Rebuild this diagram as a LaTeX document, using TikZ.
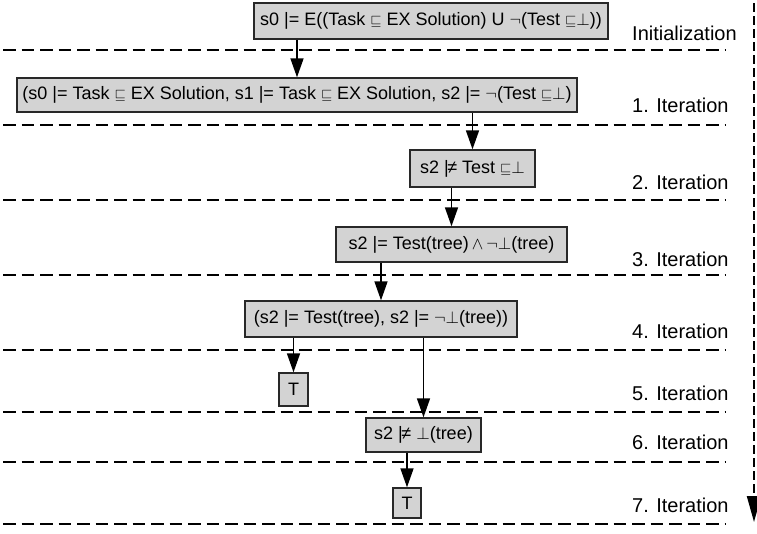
\documentclass[tikz,border=0pt]{standalone}
\usepackage{fontspec}
\setmainfont{Liberation Sans}
\usetikzlibrary{arrows.meta}

\definecolor{boxfill}{RGB}{211,211,211}
\definecolor{boxline}{RGB}{40,40,40}

% logic symbols, set a little smaller than the text
\newcommand\symSq{{\fontsize{14}{14}\selectfont$\sqsubseteq$}}
\newcommand\symBot{{\fontsize{16}{16}\selectfont$\bot$}}
\newcommand\symNeg{{\fontsize{16}{16}\selectfont$\neg$}}
\newcommand\symAnd{{\fontsize{16}{16}\selectfont$\wedge$}}
\newcommand\nmodels{|\kern-1.5pt≠}

\tikzset{
  state/.style={draw=boxline, fill=boxfill, line width=1.4pt, inner xsep=0pt,
    inner ysep=0pt, font=\fontsize{18}{21}\selectfont},
  lbl/.style={anchor=west, inner sep=0pt, font=\fontsize{20}{24}\selectfont},
  arr/.style={line width=1.6pt, -{Triangle[length=19pt, width=13pt]}},
  sep/.style={line width=2.8pt, dash pattern=on 12.5pt off 6pt},
  timeline/.style={line width=2pt, dash pattern=on 9pt off 4pt,
    -{Triangle[length=26pt, width=14pt]}}
}

\begin{document}
\begin{tikzpicture}[x=1pt, y=-1pt]
\useasboundingbox (0,0) rectangle (757,533);

% iteration separators
\foreach \yy in {50,125,200,275,350,412,462,524}
  \draw[sep] (3,\yy) -- (725,\yy);

% time axis on the right
\coordinate (tstart) at (754,3);
\coordinate (tend) at (754,522);
\draw[timeline] (tstart) -- (tend);

% states
\node[state, minimum width=354pt, minimum height=36pt] (b0) at (431,21)
  {s0 |= E((Task \symSq\ EX Solution) U \symNeg(Test \symSq\symBot))};
\node[state, minimum width=560pt, minimum height=34pt] (b1) at (297,95)
  {(s0 |= Task \symSq\ EX Solution, s1 |= Task \symSq\ EX Solution, s2 |= \symNeg(Test \symSq\symBot)};
\node[state, minimum width=125pt, minimum height=37pt] (b2) at (472.5,168.5)
  {s2 \nmodels\ Test \symSq\symBot};
\node[state, minimum width=231pt, minimum height=35pt] (b3) at (451.5,244.5)
  {s2 |= Test(tree)\,\symAnd\,\symNeg\symBot(tree)};
\node[state, minimum width=272pt, minimum height=36pt] (b4) at (381,319)
  {(s2 |= Test(tree), s2 |= \symNeg\symBot(tree))};
\node[state, minimum width=29pt, minimum height=33pt] (t1) at (293.5,389.5) {T};
\node[state, minimum width=115pt, minimum height=34pt] (b6) at (423.5,435)
  {s2 \nmodels\ \symBot(tree)};
\node[state, minimum width=28pt, minimum height=30pt] (t2) at (407,503) {T};

% derivation steps
\draw[arr] (b0.south -| b1.north) -- (b1.north);
\draw[arr] (b1.south -| b2.north) -- (b2.north);
\draw[arr] (b2.south -| b3.north) -- (b3.north);
\draw[arr] (b3.south -| b4.north) -- (b4.north);
\draw[arr] (b4.south -| t1.north) -- (t1.north);
\draw[arr] (b4.south -| b6.north) -- (b6.north);
\draw[arr] (b6.south -| t2.north) -- (t2.north);

% iteration labels
\node[lbl] (l0) at (632,33) {Initialization};
\node[lbl] (l1) at (632,105) {1. Iteration};
\node[lbl] (l2) at (632,182) {2. Iteration};
\node[lbl] (l3) at (632,259) {3. Iteration};
\node[lbl] (l4) at (632,331) {4. Iteration};
\node[lbl] (l5) at (632,393) {5. Iteration};
\node[lbl] (l6) at (632,442) {6. Iteration};
\node[lbl] (l7) at (632,505) {7. Iteration};
\end{tikzpicture}
\end{document}
